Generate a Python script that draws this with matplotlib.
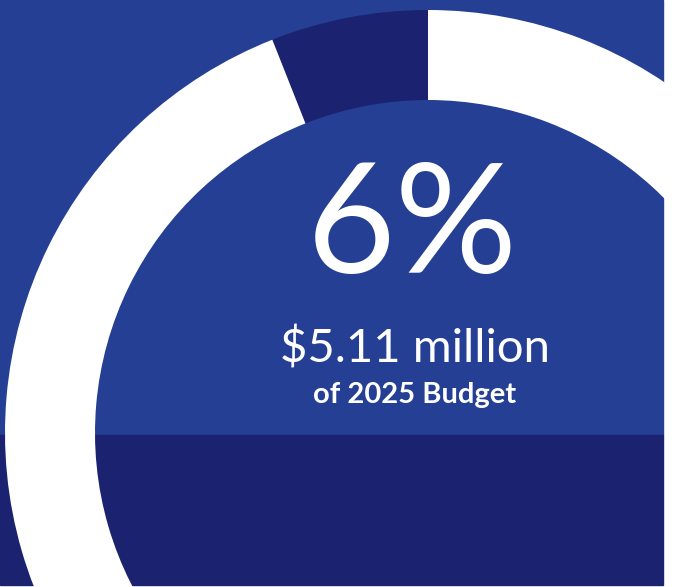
import matplotlib
matplotlib.use("Agg")
from matplotlib import pyplot as plt
from matplotlib.patches import Rectangle

# share of the 2025 budget
shares = [6, 94]
share_labels = ["Program", "Rest of budget"]
headline = "6%"
amount = "$5.11 million"
caption = "of 2025 Budget"

blue = "#243f93"
navy = "#1b226f"

fig = plt.figure(figsize=(6.75, 5.87), dpi=100)
ax = fig.add_axes([0, 0, 1, 1])

# background panel: lighter blue on top, navy below the donut centre
ax.add_patch(Rectangle((0, 0), 663, 435, color=blue, zorder=0))
ax.add_patch(Rectangle((0, 435), 663, 150, color=navy, zorder=0))

# y axis is flipped (pixel coords), so start at -90 to point up
ax.pie(shares, labels=None, colors=[navy, "white"], startangle=-90,
       counterclock=False, center=(428, 433), radius=423,
       wedgeprops=dict(width=90, linewidth=0))

ax.set_xlim(0, 675)
ax.set_ylim(587, 0)
ax.set_aspect("equal")
ax.axis("off")

ax.text(412, 273, headline, color="white", fontsize=110, family="Lato",
        ha="center", va="baseline")
ax.text(415, 362, amount, color="white", fontsize=34, family="Lato",
        ha="center", va="baseline")
ax.text(415, 403, caption, color="white", fontsize=21, family="Lato",
        weight="bold", ha="center", va="baseline")

fig.savefig("out.png", dpi=100)
